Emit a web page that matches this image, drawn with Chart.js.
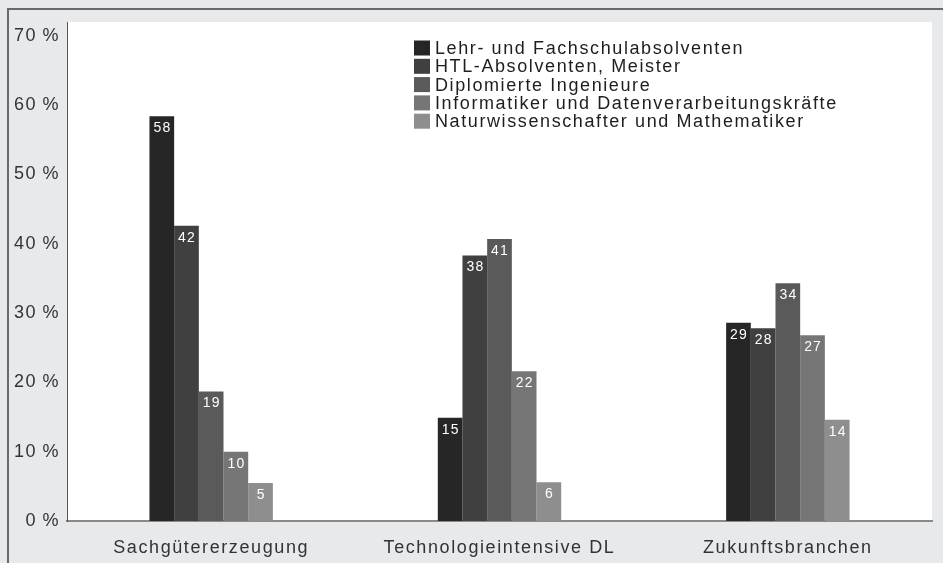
<!DOCTYPE html>
<html>
<head>
<meta charset="utf-8">
<script src="https://cdn.jsdelivr.net/npm/chart.js@4.4.1/dist/chart.umd.min.js"></script>
<style>
html,body{margin:0;padding:0;background:#e8e9eb;}
#wrap{width:943px;height:563px;position:relative;}
</style>
</head>
<body>
<div id="wrap"><canvas id="c" width="943" height="563"></canvas></div>
<script>
const categories = ['Sachgütererzeugung', 'Technologieintensive DL', 'Zukunftsbranchen'];
const seriesNames = [
  'Lehr- und Fachschulabsolventen',
  'HTL-Absolventen, Meister',
  'Diplomierte Ingenieure',
  'Informatiker und Datenverarbeitungskräfte',
  'Naturwissenschafter und Mathematiker'
];
const lehrFach   = [58.4, 14.9, 28.6];
const htlMeister = [42.6, 38.3, 27.8];
const diplIng    = [18.7, 40.7, 34.3];
const informatik = [10.0, 21.6, 26.8];
const naturwiss  = [5.5, 5.6, 14.6];
const lehrFachLbl   = ['58', '15', '29'];
const htlMeisterLbl = ['42', '38', '28'];
const diplIngLbl    = ['19', '41', '34'];
const informatikLbl = ['10', '22', '27'];
const naturwissLbl  = ['5', '6', '14'];
const yTicks = [0, 10, 20, 30, 40, 50, 60, 70];

const colors = ['#262626', '#404040', '#5a5a5a', '#767676', '#8e8e8e'];
const values = [lehrFach, htlMeister, diplIng, informatik, naturwiss];
const valueLabels = [lehrFachLbl, htlMeisterLbl, diplIngLbl, informatikLbl, naturwissLbl];

const FONT = '"Liberation Sans", Arial, sans-serif';

const framePlugin = {
  id: 'frame',
  beforeLayout(chart) { chart.ctx.letterSpacing = '1.6px'; },
  beforeDraw(chart) {
    const ctx = chart.ctx, a = chart.chartArea;
    ctx.save();
    ctx.fillStyle = '#e8e9eb';
    ctx.fillRect(0, 0, chart.width, chart.height);
    ctx.fillStyle = '#ffffff';
    ctx.fillRect(a.left, a.top, a.right - a.left, a.bottom - a.top);
    ctx.strokeStyle = '#6a6a6a';
    ctx.lineWidth = 2;
    ctx.beginPath();
    ctx.moveTo(8, chart.height);
    ctx.lineTo(8, 9);
    ctx.lineTo(chart.width, 9);
    ctx.stroke();
    ctx.restore();
    ctx.letterSpacing = '1.6px';
  },
  afterDatasetsDraw(chart) {
    const ctx = chart.ctx;
    ctx.save();
    ctx.letterSpacing = '1.2px';
    ctx.font = '14px ' + FONT;
    ctx.fillStyle = '#ffffff';
    ctx.textAlign = 'center';
    ctx.textBaseline = 'top';
    chart.data.datasets.forEach((ds, i) => {
      const meta = chart.getDatasetMeta(i);
      meta.data.forEach((bar, j) => {
        ctx.fillText(valueLabels[i][j], bar.x + 0.6, bar.y + 5);
      });
    });
    // legend
    ctx.letterSpacing = '1.6px';
    ctx.font = '18px ' + FONT;
    ctx.textAlign = 'left';
    ctx.textBaseline = 'middle';
    chart.data.datasets.forEach((ds, i) => {
      const cy = 48 + i * 18.3;
      ctx.fillStyle = ds.backgroundColor;
      ctx.fillRect(414, cy - 7.5, 16, 15);
      ctx.fillStyle = '#1e1e1e';
      ctx.fillText(ds.label, 435, cy + 1);
    });
    ctx.restore();
    ctx.letterSpacing = '1.6px';
  }
};

new Chart(document.getElementById('c'), {
  type: 'bar',
  data: {
    labels: categories,
    datasets: values.map((v, i) => ({
      label: seriesNames[i],
      data: v,
      backgroundColor: colors[i],
      borderWidth: 0,
      barPercentage: 1.0,
      categoryPercentage: 0.428
    }))
  },
  options: {
    responsive: false,
    animation: false,
    devicePixelRatio: 1,
    layout: { padding: { left: 0, top: 22, right: 11, bottom: 0 } },
    plugins: { legend: { display: false }, tooltip: { enabled: false } },
    scales: {
      x: {
        grid: { display: false, drawTicks: false },
        border: { display: true, color: '#8a8a8a', width: 2 },
        ticks: { color: '#333333', font: { family: FONT, size: 18 }, padding: 16, maxRotation: 0 },
        afterFit(s) { s.height = 42; }
      },
      y: {
        min: 0,
        max: 72,
        afterBuildTicks(s) { s.ticks = yTicks.map(v => ({ value: v })); },
        grid: { display: false, drawTicks: false },
        border: { display: true, color: '#555555', width: 1 },
        ticks: {
          color: '#333333',
          font: { family: FONT, size: 18 },
          padding: 7,
          callback: v => v + '\u2009%'
        },
        afterFit(s) { s.width = 67; }
      }
    }
  },
  plugins: [framePlugin]
});
</script>
</body>
</html>
